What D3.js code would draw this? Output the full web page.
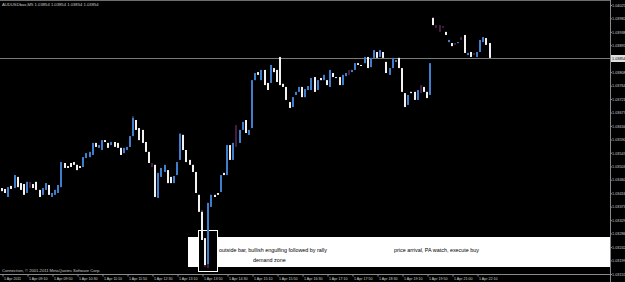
<!DOCTYPE html>
<html>
<head>
<meta charset="utf-8">
<script src="https://cdn.jsdelivr.net/npm/d3@7"></script>
<style>
body{margin:0;background:#000;overflow:hidden}
svg{display:block}
text{font-family:"Liberation Sans",Arial,sans-serif}
</style>
</head>
<body>
<div class="chart"></div>
<script>
let symbol='AUDUSDbax,M5'
let lastQuote=[1.03854,1.03854,1.03854,1.03854]
let bid=1.03854
let copyright='Connection, \u00a9 2001-2011 MetaQuotes Software Corp.'
let timeLabels=['1 Apr 2011','1 Apr 09:10','1 Apr 09:50','1 Apr 10:30','1 Apr 11:10','1 Apr 11:50','1 Apr 12:30','1 Apr 13:10','1 Apr 13:50','1 Apr 14:30','1 Apr 15:10','1 Apr 15:50','1 Apr 16:30','1 Apr 17:10','1 Apr 17:50','1 Apr 18:30','1 Apr 19:10','1 Apr 19:50','1 Apr 21:00','1 Apr 22:10']
let priceTicks=[1.04025,1.03982,1.03938,1.03895,1.03851,1.03808,1.03764,1.03721,1.03677,1.03634,1.03590,1.03547,1.03503,1.03460,1.03416,1.03373,1.03329,1.03286,1.03242,1.03199,1.03155]
let noteLine1='outside bar, bullish engulfing followed by rally'
let noteLine2='demand zone'
let noteRight='price arrival, PA watch, execute buy'

let open=[1.03433,1.03430,1.03404,1.03440,1.03433,1.03469,1.03449,1.03446,1.03417,1.03443,
1.03446,1.03453,1.03427,1.03411,1.03427,1.03443,1.03404,1.03411,1.03417,1.03436,
1.03514,1.03504,1.03514,1.03517,1.03508,1.03504,1.03501,1.03530,1.03533,1.03540,
1.03579,1.03563,1.03556,1.03588,1.03579,1.03572,1.03582,1.03579,1.03563,1.03546,
1.03556,1.03566,1.03601,1.03653,1.03627,1.03621,1.03582,1.03550,1.03508,1.03508,
1.03401,1.03469,1.03485,1.03491,1.03469,1.03449,1.03475,1.03524,1.03605,1.03556,
1.03524,1.03508,1.03485,1.03411,1.03356,1.03271,1.03187,1.03372,1.03411,1.03417,
1.03420,1.03482,1.03475,1.03572,1.03524,1.03601,1.03579,1.03621,1.03653,1.03605,
1.03627,1.03782,1.03808,1.03782,1.03815,1.03773,1.03773,1.03821,1.03815,1.03857,
1.03770,1.03760,1.03711,1.03695,1.03734,1.03744,1.03760,1.03727,1.03750,1.03750,
1.03792,1.03750,1.03789,1.03782,1.03782,1.03760,1.03805,1.03792,1.03792,1.03766,
1.03795,1.03808,1.03808,1.03815,1.03837,1.03831,1.03837,1.03857,1.03824,1.03854,
1.03873,1.03857,1.03873,1.03841,1.03799,1.03821,1.03841,1.03854,1.03821,1.03740,
1.03702,1.03744,1.03744,1.03718,1.03753,1.03760,1.03744,1.03734,1.03983,1.03957,
1.03951,1.03954,1.03938,1.03905,1.03902,1.03899,1.03902,1.03918,1.03928,1.03863,
1.03873,1.03867,1.03857,1.03873,1.03905,1.03918,1.03902]
let close=[1.03423,1.03417,1.03436,1.03430,1.03475,1.03436,1.03427,1.03411,1.03453,1.03443,
1.03433,1.03427,1.03404,1.03433,1.03449,1.03411,1.03417,1.03427,1.03443,1.03517,
1.03498,1.03498,1.03501,1.03508,1.03491,1.03498,1.03533,1.03546,1.03550,1.03579,
1.03566,1.03572,1.03588,1.03582,1.03563,1.03582,1.03566,1.03563,1.03540,1.03563,
1.03566,1.03601,1.03660,1.03621,1.03588,1.03579,1.03550,1.03514,1.03508,1.03404,
1.03482,1.03498,1.03508,1.03449,1.03449,1.03472,1.03517,1.03608,1.03556,1.03517,
1.03508,1.03485,1.03417,1.03356,1.03265,1.03184,1.03385,1.03411,1.03404,1.03411,
1.03475,1.03475,1.03572,1.03524,1.03579,1.03601,1.03621,1.03647,1.03611,1.03621,
1.03782,1.03805,1.03799,1.03815,1.03766,1.03750,1.03831,1.03808,1.03776,1.03766,
1.03760,1.03718,1.03692,1.03727,1.03744,1.03760,1.03727,1.03753,1.03763,1.03789,
1.03744,1.03782,1.03782,1.03799,1.03766,1.03815,1.03792,1.03789,1.03766,1.03799,
1.03805,1.03808,1.03815,1.03837,1.03831,1.03828,1.03857,1.03821,1.03854,1.03879,
1.03854,1.03879,1.03854,1.03805,1.03821,1.03854,1.03847,1.03821,1.03744,1.03695,
1.03734,1.03740,1.03718,1.03750,1.03753,1.03744,1.03724,1.03837,1.03960,1.03957,
1.03951,1.03954,1.03928,1.03912,1.03892,1.03899,1.03905,1.03918,1.03870,1.03870,
1.03857,1.03867,1.03873,1.03912,1.03921,1.03896,1.03854]
let high=[1.03433,1.03430,1.03436,1.03440,1.03475,1.03469,1.03449,1.03446,1.03453,1.03453,
1.03446,1.03453,1.03427,1.03433,1.03449,1.03443,1.03417,1.03427,1.03443,1.03517,
1.03514,1.03504,1.03514,1.03517,1.03508,1.03504,1.03533,1.03546,1.03550,1.03579,
1.03579,1.03572,1.03588,1.03588,1.03579,1.03582,1.03582,1.03579,1.03563,1.03563,
1.03566,1.03601,1.03666,1.03653,1.03627,1.03621,1.03582,1.03550,1.03514,1.03508,
1.03482,1.03498,1.03508,1.03491,1.03469,1.03472,1.03517,1.03611,1.03605,1.03556,
1.03524,1.03508,1.03485,1.03411,1.03362,1.03271,1.03385,1.03411,1.03411,1.03417,
1.03475,1.03482,1.03572,1.03572,1.03579,1.03637,1.03621,1.03647,1.03653,1.03621,
1.03782,1.03805,1.03808,1.03815,1.03815,1.03773,1.03831,1.03821,1.03815,1.03857,
1.03770,1.03760,1.03711,1.03727,1.03744,1.03760,1.03760,1.03753,1.03763,1.03789,
1.03792,1.03782,1.03789,1.03799,1.03782,1.03815,1.03805,1.03792,1.03792,1.03799,
1.03805,1.03815,1.03815,1.03837,1.03837,1.03831,1.03857,1.03857,1.03854,1.03879,
1.03873,1.03879,1.03873,1.03841,1.03821,1.03854,1.03847,1.03854,1.03821,1.03740,
1.03734,1.03744,1.03744,1.03750,1.03766,1.03760,1.03744,1.03837,1.03986,1.03960,
1.03960,1.03957,1.03938,1.03912,1.03902,1.03902,1.03905,1.03921,1.03928,1.03870,
1.03873,1.03870,1.03873,1.03912,1.03921,1.03918,1.03902]
let low=[1.03423,1.03417,1.03404,1.03430,1.03433,1.03436,1.03427,1.03411,1.03417,1.03433,
1.03433,1.03427,1.03404,1.03411,1.03427,1.03411,1.03404,1.03411,1.03417,1.03436,
1.03498,1.03498,1.03501,1.03508,1.03491,1.03498,1.03501,1.03530,1.03533,1.03540,
1.03566,1.03563,1.03556,1.03582,1.03563,1.03572,1.03566,1.03563,1.03540,1.03546,
1.03556,1.03566,1.03601,1.03621,1.03588,1.03579,1.03550,1.03514,1.03501,1.03404,
1.03401,1.03469,1.03485,1.03449,1.03449,1.03449,1.03475,1.03524,1.03556,1.03517,
1.03508,1.03485,1.03417,1.03356,1.03265,1.03178,1.03174,1.03372,1.03404,1.03411,
1.03420,1.03475,1.03475,1.03524,1.03524,1.03566,1.03579,1.03621,1.03611,1.03605,
1.03627,1.03782,1.03799,1.03782,1.03766,1.03750,1.03773,1.03808,1.03776,1.03766,
1.03760,1.03718,1.03692,1.03695,1.03734,1.03744,1.03727,1.03727,1.03750,1.03750,
1.03744,1.03750,1.03782,1.03782,1.03766,1.03760,1.03792,1.03789,1.03766,1.03766,
1.03795,1.03799,1.03808,1.03815,1.03831,1.03828,1.03837,1.03821,1.03824,1.03854,
1.03854,1.03857,1.03854,1.03805,1.03799,1.03821,1.03841,1.03821,1.03744,1.03695,
1.03702,1.03740,1.03718,1.03718,1.03740,1.03744,1.03724,1.03734,1.03960,1.03951,
1.03938,1.03951,1.03928,1.03905,1.03892,1.03896,1.03902,1.03912,1.03870,1.03863,
1.03857,1.03863,1.03857,1.03873,1.03905,1.03896,1.03854]

let w=625, h=282
let right=610, bottom=274
let svg=d3.select('.chart').append('svg').attr('width',w).attr('height',h)
svg.append('rect').attr('width',w).attr('height',h).attr('fill','#000')

// bar index -> x, price -> y
let xScale=d3.scaleLinear().domain([0,192]).range([2,602])
let yScale=d3.scaleLinear().domain([1.03155,1.04025]).range([274,5])

// annotation band + box behind the bars
svg.append('rect').attr('x',188).attr('y',237).attr('width',right-188).attr('height',30).attr('fill','#fff')
svg.append('rect').attr('x',198.5).attr('y',230.5).attr('width',19).attr('height',41).attr('fill','#000').attr('stroke','#fff').attr('stroke-width',1)

// bid line
let by=Math.round(yScale(bid))
svg.append('line').attr('x1',0).attr('x2',right).attr('y1',by+0.5).attr('y2',by+0.5).attr('stroke','#7a7a7a')

let bars=svg.append('g')
open.forEach((o,i)=>{
    let c=close[i]
    let cx=Math.round(xScale(i))
    bars.append('rect').attr('x',cx-0.5).attr('width',1)
        .attr('y',yScale(high[i])).attr('height',Math.max(1,yScale(low[i])-yScale(high[i])))
        .attr('fill','#8a3a86')
    if(o!=c){
        let top=yScale(Math.max(o,c)), bot=yScale(Math.min(o,c))
        bars.append('rect').attr('x',cx-1).attr('width',2)
            .attr('y',top).attr('height',Math.max(1,bot-top))
            .attr('fill',c>o?'#3f7ecb':'#f2f2f2')
    }
})

// frame
svg.append('line').attr('x1',0).attr('x2',right).attr('y1',0.5).attr('y2',0.5).attr('stroke','#6e6e6e')
svg.append('line').attr('x1',right+0.5).attr('x2',right+0.5).attr('y1',0).attr('y2',h).attr('stroke','#8a8a8a')

// right price axis
let yAxis=d3.axisRight(yScale).tickValues(priceTicks).tickSize(1.5).tickFormat(d3.format('.5f'))
let gy=svg.append('g').attr('transform','translate('+(right+0.5)+',0)').call(yAxis)
gy.select('.domain').remove()
gy.selectAll('line').attr('stroke','#8a8a8a')
gy.selectAll('text').attr('x',1.5).attr('fill','#d0d0d0').attr('font-size',3.8).attr('font-family','"Liberation Sans",Arial,sans-serif')

// bid label
svg.append('rect').attr('x',right+1).attr('y',by-3).attr('width',w-right).attr('height',7).attr('fill','#e0e0e0')
svg.append('text').attr('x',right+2).attr('y',by+1.8).attr('font-size',3.8).attr('fill','#000').text(d3.format('.5f')(bid))

// time axis
let xAxis=d3.axisBottom(xScale).tickValues(timeLabels.map((t,i)=>i*8)).tickSize(2).tickFormat((d,i)=>timeLabels[i])
let gx=svg.append('g').attr('transform','translate(0,'+(bottom+0.5)+')').call(xAxis)
gx.select('.domain').attr('stroke','#8a8a8a').attr('d','M0,0H'+right)
gx.selectAll('line').attr('stroke','#8a8a8a').attr('transform','translate(0.5,0)')
gx.selectAll('text').attr('text-anchor','start').attr('x',1.5).attr('y',2.5).attr('dy','0.71em').attr('fill','#d0d0d0').attr('font-size',3.6).attr('font-family','"Liberation Sans",Arial,sans-serif')

// texts
svg.append('text').attr('x',2).attr('y',6).attr('font-size',4.2).attr('fill','#c8c8c8').text(symbol+'  '+lastQuote.map(d3.format('.5f')).join(' '))
svg.append('text').attr('x',2).attr('y',272).attr('font-size',4.1).attr('fill','#c8c8c8').text(copyright)
svg.append('text').attr('x',219).attr('y',252).attr('font-size',5.4).attr('fill','#000').text(noteLine1)
svg.append('text').attr('x',253).attr('y',262).attr('font-size',5.4).attr('fill','#000').text(noteLine2)
svg.append('text').attr('x',394).attr('y',252).attr('font-size',5.4).attr('fill','#000').text(noteRight)
</script>
</body>
</html>
